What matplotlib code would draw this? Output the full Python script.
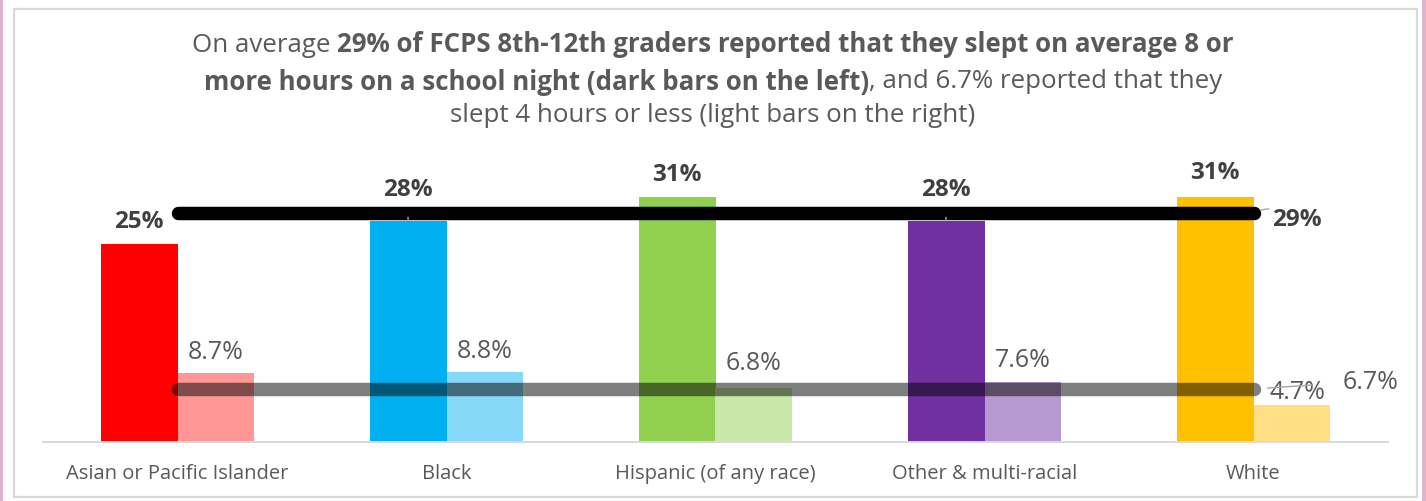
import matplotlib
matplotlib.use("Agg")
import matplotlib.pyplot as plt
from matplotlib.patches import Rectangle
import numpy as np

# chart data
groups = ["Asian or Pacific Islander", "Black", "Hispanic (of any race)",
          "Other & multi-racial", "White"]
sleep_8_plus = [25, 28, 31, 28, 31]
sleep_4_less = [8.7, 8.8, 6.8, 7.6, 4.7]
avg_8_plus = 29
avg_4_less = 6.7

dark_colors = ["#FF0000", "#00B0F0", "#92D050", "#7030A0", "#FFC000"]
light_colors = ["#FF9797", "#86D8F8", "#C9E7A8", "#B799D1", "#FFDE84"]

title_lines = [
    [("On average ", "normal"),
     ("29% of FCPS 8th-12th graders reported that they slept on average 8 or", "bold")],
    [("more hours on a school night (dark bars on the left)", "bold"),
     (", and 6.7% reported that they", "normal")],
    [("slept 4 hours or less (light bars on the right)", "normal")],
]

FONT = "Open Sans"
W, H = 1426, 502
fig = plt.figure(figsize=(W / 100, H / 100), dpi=100)
fig.patch.set_facecolor("white")

# outer frame
fig.patches.append(Rectangle((0, 0), 3 / W, 1, transform=fig.transFigure,
                             facecolor="#DDB4CC", edgecolor="none"))
fig.patches.append(Rectangle((1 - 4 / W, 0), 4 / W, 1, transform=fig.transFigure,
                             facecolor="#DDB4CC", edgecolor="none"))
fig.patches.append(Rectangle((14 / W, 1 - 498 / H), 1403 / W, 488 / H,
                             transform=fig.transFigure, facecolor="none",
                             edgecolor="#D9D9D9", lw=1.6))

ax_left, ax_right = 43, 1388
ax_bottom, ax_top = 443, 148
ax = fig.add_axes([ax_left / W, 1 - ax_bottom / H,
                   (ax_right - ax_left) / W, (ax_bottom - ax_top) / H])
ax.set_facecolor("none")

x = np.arange(len(groups))
w = 0.286
ax.bar(x - w / 2, sleep_8_plus, w, color=dark_colors, zorder=2)
ax.bar(x + w / 2, sleep_4_less, w, color=light_colors, zorder=2)

ax.plot([x[0], x[-1]], [avg_8_plus, avg_8_plus], color="black", lw=9.7,
        solid_capstyle="round", zorder=3)
ax.plot([x[0], x[-1]], [avg_4_less, avg_4_less], color="black", alpha=0.5,
        lw=9.7, solid_capstyle="round", zorder=3)

ax.set_xlim(-0.5, len(groups) - 0.5)
ax.set_ylim(0, 37.3)
ax.set_yticks([])
ax.set_xticks(x)
ax.set_xticklabels(groups, fontsize=14.5, color="#595959", family=FONT)
ax.tick_params(axis="x", length=0, pad=15)
for s in ["top", "left", "right"]:
    ax.spines[s].set_visible(False)
ax.spines["bottom"].set_color("#D9D9D9")
ax.spines["bottom"].set_linewidth(1.4)

lead = dict(arrowstyle="-", color="#A6A6A6", lw=1.0, shrinkA=10, shrinkB=0)
dark_off = [23, 32, 23, 32, 25]
for i, v in enumerate(sleep_8_plus):
    kw = {}
    if dark_off[i] > 30:
        kw["arrowprops"] = lead
    ax.annotate(f"{v}%", xy=(x[i] - w / 2, v), xytext=(0, dark_off[i]),
                textcoords="offset pixels", ha="center", va="center",
                fontsize=17.5, fontweight="bold", color="#404040",
                family=FONT, zorder=5, **kw)

light_off = [(0, 22), (0, 22), (0, 26), (0, 22), (5, 13)]
for i, v in enumerate(sleep_4_less):
    ax.annotate(f"{v}%", xy=(x[i] + w / 2, v), xytext=light_off[i],
                textcoords="offset pixels", ha="center", va="center",
                fontsize=18, color="#595959", family=FONT, zorder=5)

ax.annotate(f"{avg_8_plus}%", xy=(x[-1], avg_8_plus), xytext=(43, -6),
            textcoords="offset pixels", ha="center", va="center",
            fontsize=17.5, fontweight="bold", color="#404040", family=FONT,
            arrowprops=dict(arrowstyle="-", color="#A6A6A6", lw=1.0,
                            shrinkA=14, shrinkB=6,
                            connectionstyle="arc3,rad=0.3"), zorder=5)
ax.annotate(f"{avg_4_less}%", xy=(x[-1], avg_4_less), xytext=(117, 8),
            textcoords="offset pixels", ha="center", va="center",
            fontsize=18, color="#595959", family=FONT,
            arrowprops=dict(arrowstyle="-", color="#A6A6A6", lw=1.0,
                            shrinkA=20, shrinkB=10), zorder=5)

# title with mixed bold runs, centred line by line
renderer = fig.canvas.get_renderer()
line_y = [45, 82, 116]
for ln, yy in zip(title_lines, line_y):
    pieces = []
    for txt, wt in ln:
        t = fig.text(0, 1 - yy / H, txt, fontsize=18.6, fontweight=wt,
                     color="#595959", family=FONT, va="center", ha="left")
        pieces.append(t)
    widths = [p.get_window_extent(renderer).width for p in pieces]
    start = (W / 2 - sum(widths) / 2)
    for p, wd in zip(pieces, widths):
        p.set_x(start / W)
        start += wd

fig.savefig("out.png", dpi=100)
